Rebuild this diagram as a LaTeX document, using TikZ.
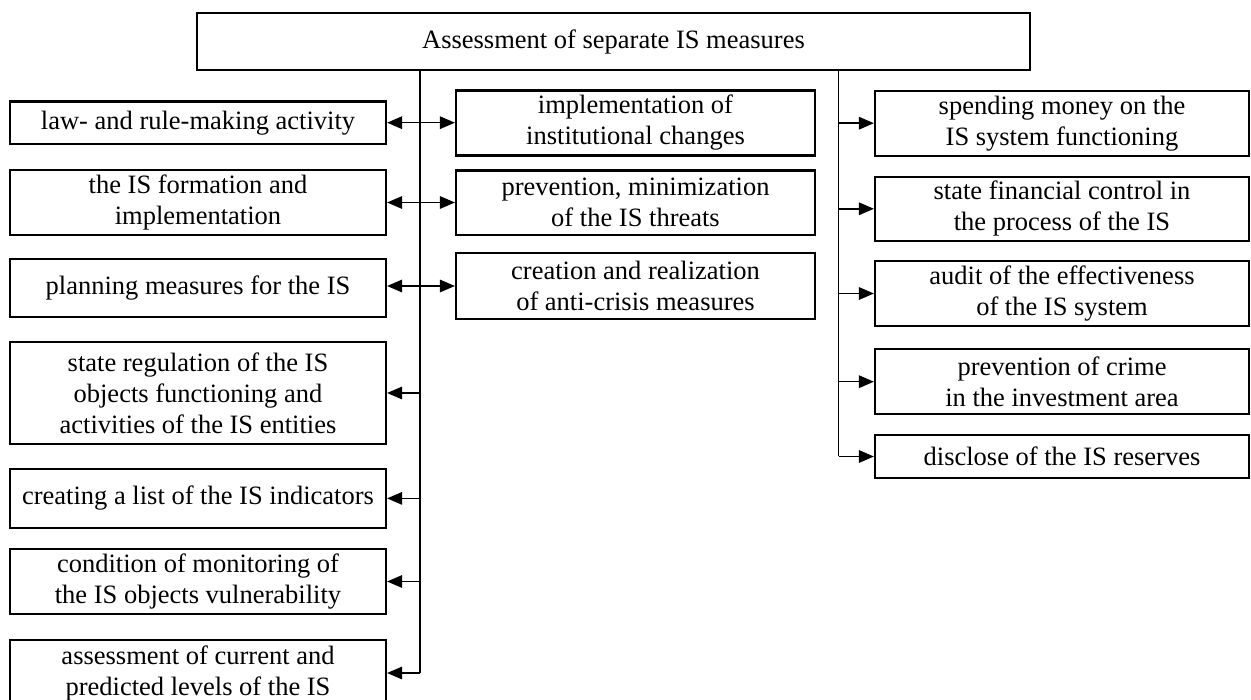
\documentclass[tikz,border=0pt]{standalone}
\usepackage{fontspec}
\setmainfont{Liberation Serif}
\usetikzlibrary{arrows.meta}
\begin{document}
\begin{tikzpicture}[x=1pt,y=-1pt,
  box/.style={draw, line width=2.2pt, align=center, inner sep=0pt,
    font=\fontsize{26.5}{31}\selectfont},
  lbox/.style={box, minimum width=376pt},
  mbox/.style={box, minimum width=359pt},
  rbox/.style={box, minimum width=374pt},
  conn/.style={line width=1.6pt},
  arr/.style={conn, -{Triangle[length=15pt,width=12.5pt]}},
  darr/.style={conn, {Triangle[length=15pt,width=12.5pt]}-{Triangle[length=15pt,width=12.5pt]}}]
\useasboundingbox (0,0) rectangle (1251,700);
\clip (0,0) rectangle (1251,700);

\node[box, minimum width=833pt, minimum height=57pt] (top) at (613.5,41.5) {Assessment of separate IS measures};

\node[lbox, minimum height=42.5pt] (L1) at (198,122.7) {law- and rule-making activity};
\node[lbox, minimum height=65pt] (L2) at (198,202.5) {the IS formation and\\implementation};
\node[lbox, minimum height=58pt] (L3) at (198,288) {planning measures for the IS};
\node[lbox, minimum height=102.6pt] (L4) at (198,393) {state regulation of the IS\\objects functioning and\\activities of the IS entities};
\node[lbox, minimum height=58.7pt] (L5) at (198,498.4) {creating a list of the IS indicators};
\node[lbox, minimum height=65pt] (L6) at (198,581.5) {condition of monitoring of\\the IS objects vulnerability};
\node[lbox, minimum height=66pt] (L7) at (198,673) {assessment of current and\\predicted levels of the IS};

\node[mbox, minimum height=65pt] (M1) at (635.5,123) {implementation of\\institutional changes};
\node[mbox, minimum height=64.5pt] (M2) at (635.5,202.8) {prevention, minimization\\of the IS threats};
\node[mbox, minimum height=65.7pt] (M3) at (635.5,286) {creation and realization\\of anti-crisis measures};

\node[rbox, minimum height=65pt] (R1) at (1062,123.2) {spending money on the\\IS system functioning};
\node[rbox, minimum height=64.3pt] (R2) at (1062,208.8) {state financial control in\\the process of the IS};
\node[rbox, minimum height=65pt] (R3) at (1062,293.5) {audit of the effectiveness\\of the IS system};
\node[rbox, minimum height=64.7pt] (R4) at (1062,381.7) {prevention of crime\\in the investment area};
\node[rbox, minimum height=43pt] (R5) at (1062,456.5) {disclose of the IS reserves};

\coordinate (lx) at (420,0);
\coordinate (rx) at (838.5,0);

\draw[conn] (top.south -| lx) -- (L7.east -| lx);
\draw[conn] (top.south -| rx) -- (R5.west -| rx);

\draw[darr] (L1.east) -- (L1.east -| M1.west);
\draw[darr] (L2.east) -- (L2.east -| M2.west);
\draw[darr] (L3.east |- M3.west) -- (M3.west);

\draw[arr] (L4.east -| lx) -- (L4.east);
\draw[arr] (L5.east -| lx) -- (L5.east);
\draw[arr] (L6.east -| lx) -- (L6.east);
\draw[arr] (L7.east -| lx) -- (L7.east);

\draw[arr] (R1.west -| rx) -- (R1.west);
\draw[arr] (R2.west -| rx) -- (R2.west);
\draw[arr] (R3.west -| rx) -- (R3.west);
\draw[arr] (R4.west -| rx) -- (R4.west);
\draw[arr] (R5.west -| rx) -- (R5.west);
\end{tikzpicture}
\end{document}
